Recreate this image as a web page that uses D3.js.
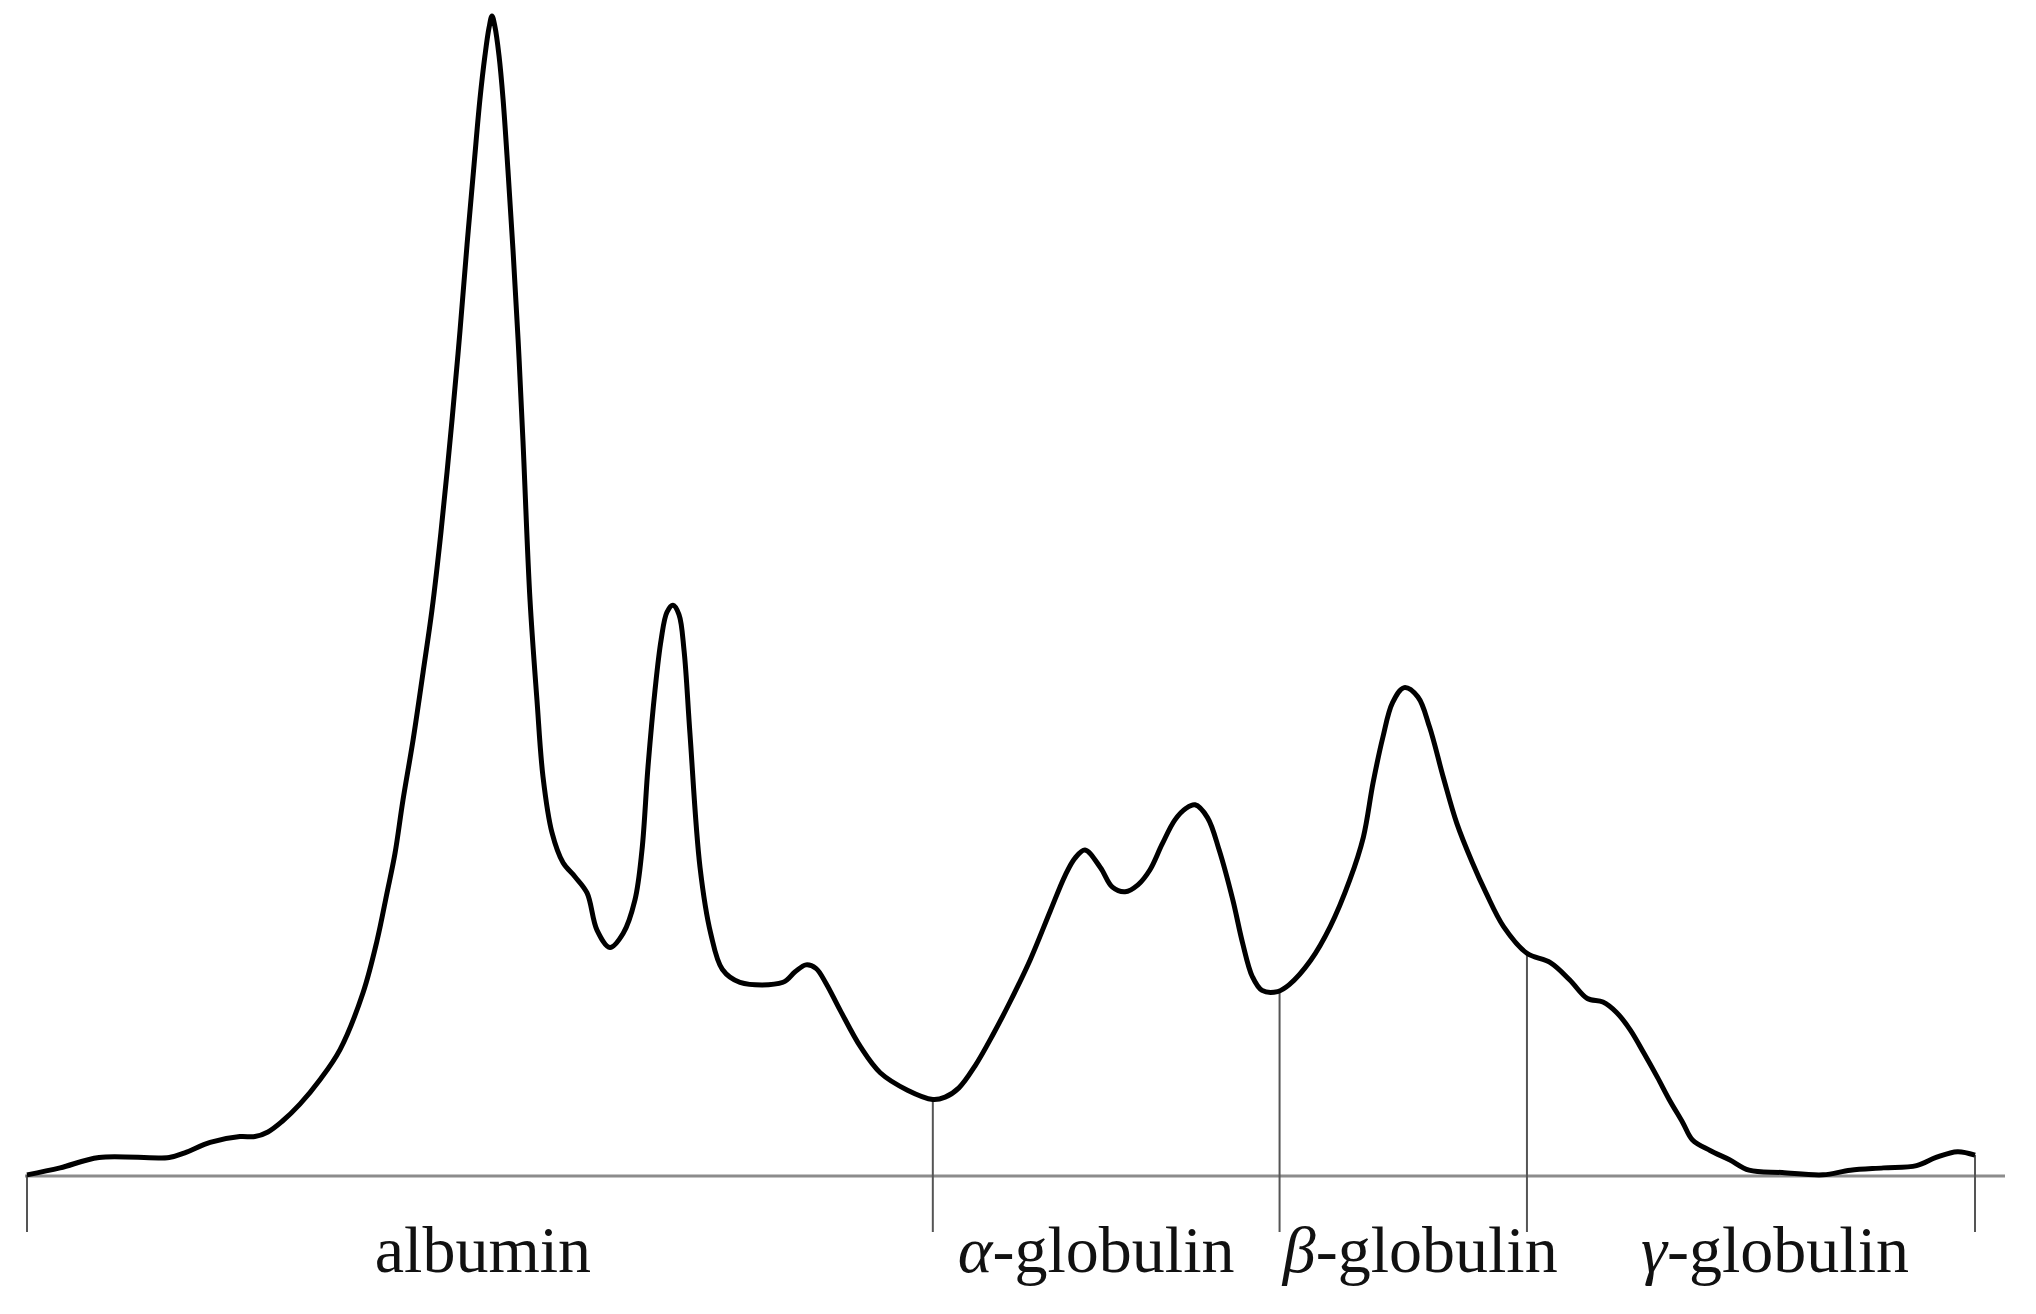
<!DOCTYPE html>
<html>
<head>
<meta charset="utf-8">
<script src="https://cdn.jsdelivr.net/npm/d3@7"></script>
<style>
	body { margin: 0; background: #fff; }
	svg { display: block; }
</style>
</head>
<body>
<svg></svg>
<script>
// serum protein electrophoresis trace
// mobility = % of lane (start -> end), density = % of albumin peak

const mobility = [0, 1.7, 3.7, 7.3, 8.1, 9.4, 10.93, 11.70, 12.37, 13.09, 14.01, 15.04, 16.07, 17.25, 17.97, 18.48, 18.89, 19.30, 19.82, 20.33, 20.79,
	21.25, 21.82, 22.23, 22.59, 22.95, 23.25, 23.51, 23.72, 23.87, 24.02, 24.23, 24.44, 24.69, 24.95, 25.21, 25.46, 25.82,
	26.18, 26.49, 26.95, 27.52, 28.13, 28.75, 29.26, 29.93, 30.60, 31.21, 31.57, 31.88, 32.24, 32.55, 32.85, 33.16, 33.47, 33.73, 34.03, 34.55,
	35.1, 35.7, 36.6, 38.81, 39.43, 39.99, 40.50, 41.02,
	41.74, 42.8, 43.8, 45.2, 46.5, 47.13, 47.84, 48.67, 49.59, 50.46, 51.49, 52.52, 53.29, 53.80, 54.31, 55.1, 55.72, 56.37, 57.03, 57.65, 58.27, 58.93, 59.50, 59.96,
	60.6, 61.2, 61.9, 62.4, 62.9, 63.4, 64.2, 64.8, 65.9, 66.9, 67.9, 68.6, 69.1, 69.6, 70.1, 70.7, 71.4, 72.0, 72.7, 73.4,
	74.2, 74.9, 75.8, 77.0, 78.2, 79.2, 80.1, 80.9, 81.6, 82.3, 83.0, 83.7, 84.3, 85.0, 85.5, 86.4, 87.4, 88.4, 90.1, 92.2,
	93.6, 95.3, 97.0, 98.0, 99.1, 100]

const density = [0.1, 0.7, 1.6, 1.6, 2.0, 2.9, 3.4, 3.4, 3.8, 4.7, 6.2, 8.3, 10.9, 15.8, 20.3, 24.4, 27.8, 32.4, 37.6, 43.4, 48.8,
	55.5, 65.2, 72.9, 80.3, 87.2, 92.8, 96.6, 99.0, 100, 99.1, 96.6, 92.8, 86.7, 79.8, 72.1, 63.4, 49.7,
	41.0, 34.4, 29.6, 27.0, 25.8, 24.4, 21.2, 19.7, 20.9, 23.8, 28.1, 35.3, 41.9, 46.2, 48.6, 49.2, 48.4, 45.3, 38.2, 26.6,
	20.9, 17.8, 16.7, 16.7, 17.6, 18.2, 17.9, 16.6,
	14.3, 11.1, 8.9, 7.4, 6.6, 6.8, 7.6, 9.5, 12.2, 15.0, 18.6, 22.8, 25.9, 27.4, 28.1, 26.6, 24.9, 24.5, 25.1, 26.4, 28.6, 30.7, 31.7, 32.0,
	30.9, 28.1, 23.8, 20.1, 17.2, 16.0, 15.9, 16.5, 18.6, 21.5, 25.5, 29.2, 33.9, 37.8, 40.8, 42.1, 41.3, 38.7, 34.4, 30.4,
	27.0, 24.4, 21.5, 19.2, 18.4, 16.9, 15.3, 15.0, 14.1, 12.6, 10.6, 8.5, 6.6, 4.6, 3.1, 2.2, 1.4, 0.5, 0.3, 0.1,
	0.5, 0.7, 0.9, 1.6, 2.1, 1.8]

// fraction limits on the mobility axis
const boundaries = [0, 46.5, 64.3, 77.0, 100]
const fractions = ["albumin", "α-globulin", "β-globulin", "γ-globulin"]

const svg = d3.select("svg")
svg
	.attr("width", 2036)
	.attr("height", 1314)

const scaleX = d3.scaleLinear()
	.domain([0, 100])
	.range([27, 1975])

const scaleY = d3.scaleLinear()
	.domain([0, 100])
	.range([1176, 16])

const tickBottom = 1232
// small nudges so the labels sit where the original has them
const labelShift = [3, -10, 17, 24]

const points = mobility.map((m, i) => ({ x: m, y: density[i] }))

// value of the trace at a given mobility (linear between readings)
const densityAt = function (m) {
	const i = d3.bisector(d => d.x).left(points, m)
	if (i <= 0) return points[0].y
	if (i >= points.length) return points[points.length - 1].y
	const a = points[i - 1], b = points[i]
	const t = (m - a.x) / (b.x - a.x)
	return a.y + t * (b.y - a.y)
}

// baseline
svg.append("line")
	.attr("x1", 25)
	.attr("x2", 2005)
	.attr("y1", scaleY(0))
	.attr("y2", scaleY(0))
	.attr("stroke", "#8c8c8c")
	.attr("stroke-width", 3)

// fraction dividers, from the trace down below the baseline
svg.selectAll("line.divider")
	.data(boundaries)
	.enter()
	.append("line")
	.attr("class", "divider")
	.attr("x1", d => scaleX(d))
	.attr("x2", d => scaleX(d))
	.attr("y1", d => scaleY(densityAt(d)))
	.attr("y2", tickBottom)
	.attr("stroke", "#555")
	.attr("stroke-width", 2)

const line = d3.line()
	.x(d => scaleX(d.x))
	.y(d => scaleY(d.y))
	.curve(d3.curveCatmullRom.alpha(0.5))

svg.append("path")
	.datum(points)
	.attr("d", line)
	.attr("fill", "none")
	.attr("stroke", "#000")
	.attr("stroke-width", 5)
	.attr("stroke-linejoin", "round")

// labels, greek letter in italics
const labels = svg.selectAll("text.fraction")
	.data(fractions)
	.enter()
	.append("text")
	.attr("class", "fraction")
	.attr("x", (d, i) => (scaleX(boundaries[i]) + scaleX(boundaries[i + 1])) / 2 + labelShift[i])
	.attr("y", 1272)
	.attr("text-anchor", "middle")
	.attr("font-family", "'Liberation Serif', 'Times New Roman', serif")
	.attr("font-size", 66)
	.attr("fill", "#111")

labels.each(function (d) {
	const t = d3.select(this)
	if (/^[α-ω]/.test(d)) {
		t.append("tspan").attr("font-style", "italic").text(d[0])
		t.append("tspan").text(d.slice(1))
	} else {
		t.text(d)
	}
})
</script>
</body>
</html>
